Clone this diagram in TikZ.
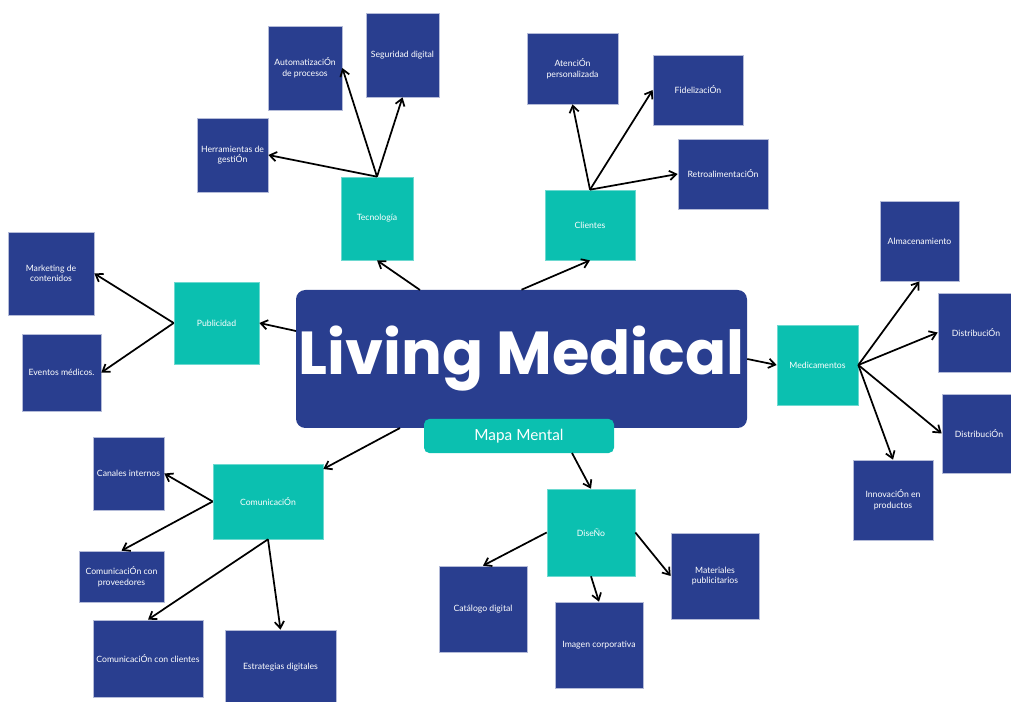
\documentclass[tikz,border=0pt]{standalone}
\usepackage{fontspec}
\setmainfont{Lato}
\newfontfamily\titlefont{Poppins}
\usetikzlibrary{arrows.meta}
\definecolor{leafblue}{RGB}{41,62,143}
\definecolor{hubteal}{RGB}{11,192,176}
\tikzset{
  arr/.style={line width=1.3pt, -{Straight Barb[length=5pt,width=7pt]}},
  box/.style 2 args={minimum width=#1*0.75pt, minimum height=#2*0.75pt,
    inner sep=1pt, align=center, text=white, font=\fontsize{6.5}{8}\selectfont},
  leaf/.style={fill=leafblue, draw=leafblue!35!white, line width=0.5pt},
  hub/.style={fill=hubteal, draw=hubteal!60!white, line width=0.5pt},
}

\begin{document}
\begin{tikzpicture}[x=0.75pt,y=-0.75pt]
  \useasboundingbox[fill=white] (0,0) rectangle (1011,702);

  % centre
  \node[fill=leafblue, rounded corners=7pt, inner sep=0pt, minimum width=451*0.75pt, minimum height=138*0.75pt,
        text=white, font=\titlefont\bfseries\fontsize{45.5}{50}\selectfont] (main) at (521.5,359) {Living Medical};
  \node[fill=hubteal, rounded corners=4pt, minimum width=190*0.75pt, minimum height=34*0.75pt,
        text=white, font=\fontsize{11.5}{13}\selectfont] (mapa) at (519,436) {Mapa Mental};

  % hubs
  \node[hub, box={72}{83}] (tec) at (377,218.5) {Tecnología};
  \node[hub, box={90}{70}] (cli) at (590,225) {Clientes};
  \node[hub, box={85}{82}] (pub) at (216.5,323) {Publicidad};
  \node[hub, box={81}{80}] (med) at (817.5,365) {Medicamentos};
  \node[hub, box={110}{75}] (com) at (268,501.5) {ComunicaciÓn};
  \node[hub, box={88}{87}] (dis) at (591,532.5) {DiseÑo};

  % leaves
  \node[leaf, box={74}{84}] (auto) at (305,68) {AutomatizaciÓn\\de procesos};
  \node[leaf, box={73}{84}] (seg) at (402.5,55) {Seguridad digital};
  \node[leaf, box={71}{74}] (herr) at (232.5,155) {Herramientas de\\gestiÓn};
  \node[leaf, box={91}{71}] (aten) at (572.5,68.5) {AtenciÓn\\personalizada};
  \node[leaf, box={90}{70}] (fid) at (698,90) {FidelizaciÓn};
  \node[leaf, box={90}{70}] (retro) at (723,174) {RetroalimentaciÓn};
  \node[leaf, box={86}{83}] (mkt) at (51,273.5) {Marketing de\\contenidos};
  \node[leaf, box={79}{77}] (evt) at (61.5,372.5) {Eventos médicos.};
  \node[leaf, box={79}{80}] (alm) at (919.5,241) {Almacenamiento};
  \node[leaf, box={76}{79}] (dist1) at (976,332.5) {DistribuciÓn};
  \node[leaf, box={74}{79}] (dist2) at (979,433.5) {DistribuciÓn};
  \node[leaf, box={80}{80}] (inn) at (893,500) {InnovaciÓn en\\productos};
  \node[leaf, box={71}{73}] (can) at (128.5,473.5) {Canales internos};
  \node[leaf, box={85}{51}] (prov) at (121.5,576.5) {ComunicaciÓn con\\proveedores};
  \node[leaf, box={110}{77}] (ccli) at (148,658.5) {ComunicaciÓn con clientes};
  \node[leaf, box={111}{75}] (est) at (280.5,667.5) {Estrategias digitales};
  \node[leaf, box={88}{86}] (cat) at (483,609) {Catálogo digital};
  \node[leaf, box={88}{86}] (img) at (599,645) {Imagen corporativa};
  \node[leaf, box={88}{86}] (mat) at (715,576) {Materiales\\publicitarios};

  % free ends on the centre box
  \coordinate (mTec) at (420,290);
  \coordinate (mPub) at (296,331);
  \coordinate (mCom) at (400,428);
  \coordinate (mDis) at (572,453);

  % centre to hubs
  \draw[arr] (mTec) -- (tec.south);
  \draw[arr] (main.north) -- (cli.south);
  \draw[arr] (mPub) -- (pub.east);
  \draw[arr] (main.east) -- (med.west);
  \draw[arr] (mCom) -- ([yshift=-4pt]com.north east);
  \draw[arr] (mDis) -- (dis.north);

  % hubs to leaves
  \foreach \t in {auto.east, seg.south, herr.east}
    \draw[arr] (tec.north) -- (\t);
  \foreach \t in {aten.south, fid.west, retro.west}
    \draw[arr] (cli.north) -- (\t);
  \foreach \t in {mkt.east, evt.east}
    \draw[arr] (pub.west) -- (\t);
  \foreach \t in {alm.south, dist1.west, dist2.west, inn.north}
    \draw[arr] (med.east) -- (\t);
  \foreach \t in {can.east, prov.north}
    \draw[arr] (com.west) -- (\t);
  \foreach \t in {ccli.north, est.north}
    \draw[arr] (com.south) -- (\t);
  \draw[arr] (dis.west) -- (cat.north);
  \draw[arr] (dis.south) -- (img.north);
  \draw[arr] (dis.east) -- (mat.west);
\end{tikzpicture}
\end{document}
